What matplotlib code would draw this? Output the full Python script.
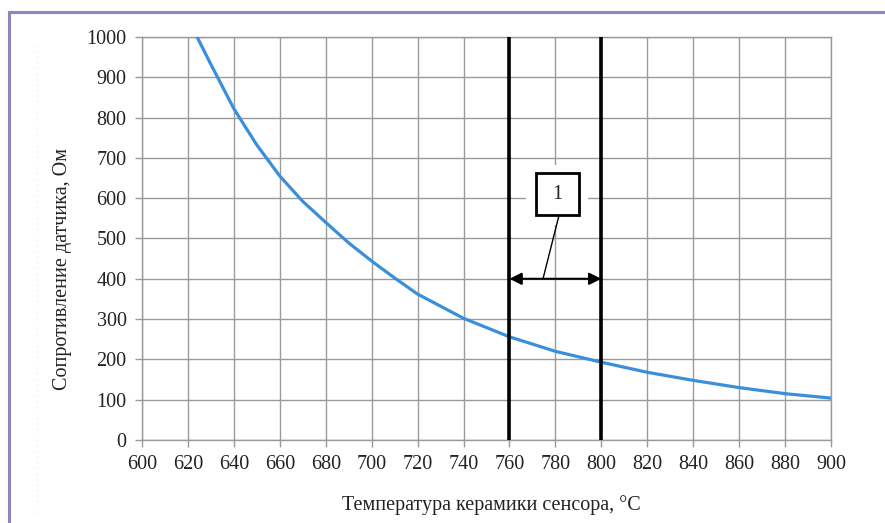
import matplotlib
matplotlib.use("Agg")
import matplotlib.pyplot as plt
from matplotlib.patches import Rectangle
from matplotlib.lines import Line2D

plt.rcParams['font.family'] = ['Liberation Serif', 'DejaVu Serif']

# Data
temperature = [624, 630, 640, 650, 660, 670, 680, 690, 700, 710, 720, 740, 760, 780, 800, 820, 840, 860, 880, 900]
resistance = [1000, 932, 822, 732, 655, 592, 540, 489, 444, 402, 362, 302, 256, 220, 193, 168, 148, 130, 115, 104]
x_ticks = list(range(600, 901, 20))
y_ticks = list(range(0, 1001, 100))
zone_bounds = [760, 800]
zone_label = "1"

W, H = 885, 523
fig = plt.figure(figsize=(W / 100, H / 100), dpi=100)
ax = fig.add_axes([142 / W, 1 - 440 / H, (831 - 142) / W, (440 - 37) / H])

grid_c = '#9a9a9a'
fs = 14.5
ax.set_xlim(600, 900)
ax.set_ylim(0, 1000)
ax.set_xticks(x_ticks)
ax.set_yticks(y_ticks)
ax.grid(True, color=grid_c, linewidth=1.0, zorder=0)
for s in ax.spines.values():
    s.set_color(grid_c)
    s.set_linewidth(1.0)
ax.tick_params(axis='both', colors=grid_c, length=5, width=1.0, labelcolor='#222222', labelsize=fs)
ax.tick_params(axis='x', pad=6)
ax.tick_params(axis='y', pad=6)

ax.plot(temperature, resistance, color='#3a8fdb', linewidth=2.3, zorder=3,
        solid_capstyle='round', solid_joinstyle='round')

for xb in zone_bounds:
    ax.axvline(xb, color='black', linewidth=2.6, zorder=4)

# white padding behind the label box
ax.add_patch(Rectangle((767, 533), 27.3, 150, facecolor='white', edgecolor='none', zorder=2))
ax.add_patch(Rectangle((771.6, 558), 18.7, 104, facecolor='white', edgecolor='black', linewidth=2.0, zorder=5))
ax.text(781, 610, zone_label, ha='center', va='center', fontsize=fs, zorder=6, color='#222222')

# double arrow and leader
ax.annotate('', xy=(760, 400), xytext=(800, 400),
            arrowprops=dict(arrowstyle='<|-|>', color='black', lw=1.5, mutation_scale=18,
                            shrinkA=0, shrinkB=0), zorder=6)
ax.plot([781.6, 774.6], [558, 400], color='black', linewidth=1.0, zorder=6)

fig.text(62 / W, 1 - 269 / H, 'Сопротивление датчика, Ом', rotation=90, ha='center', va='center',
         fontsize=fs, color='#222222')
fig.text(491 / W, 1 - 505 / H, 'Температура керамики сенсора, °C', ha='center', va='center',
         fontsize=fs, color='#222222')

frame_c = '#8b87c2'
fig.add_artist(Line2D([8.5 / W, 1], [1 - 12 / H, 1 - 12 / H], transform=fig.transFigure, color=frame_c, linewidth=2.2))
fig.add_artist(Line2D([8.5 / W, 8.5 / W], [0, 1 - 12 / H], transform=fig.transFigure, color=frame_c, linewidth=2.2))
fig.add_artist(Line2D([37 / W, 37 / W], [0.02, 1 - 45 / H], transform=fig.transFigure, color='#e6e6e6',
                      linewidth=0.8, linestyle=(0, (1, 4))))

fig.savefig('out.png', dpi=100)
